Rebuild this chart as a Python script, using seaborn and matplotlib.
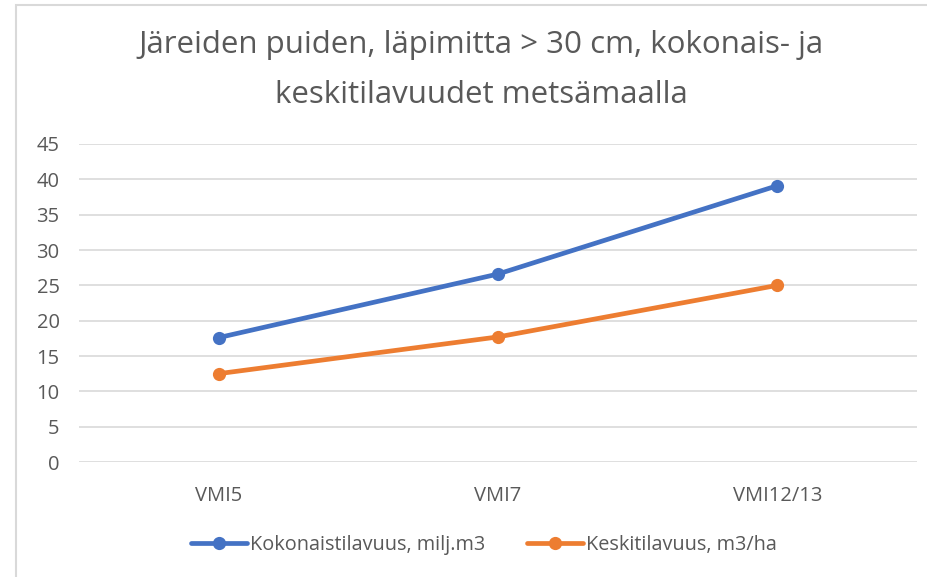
import matplotlib
matplotlib.use("Agg")
import matplotlib.pyplot as plt
import seaborn as sns
import pandas as pd
from matplotlib.lines import Line2D
from matplotlib.patches import Rectangle

categories = ["VMI5", "VMI7", "VMI12/13"]
kokonais = [17.6, 26.6, 39.1]
keski = [12.5, 17.7, 25.0]
series_names = ["Kokonaistilavuus, milj.m3", "Keskitilavuus, m3/ha"]
yticks = [0, 5, 10, 15, 20, 25, 30, 35, 40, 45]
title = "Järeiden puiden, läpimitta > 30 cm, kokonais- ja\nkeskitilavuudet metsämaalla"

colors = ["#4472C4", "#ED7D31"]

df = pd.DataFrame({
    "cat": categories * 2,
    "x": list(range(len(categories))) * 2,
    "value": kokonais + keski,
    "series": [series_names[0]] * 3 + [series_names[1]] * 3,
})

sns.set_theme(style="white")
plt.rcParams["font.family"] = ["Open Sans", "DejaVu Sans"]

fig = plt.figure(figsize=(9.28, 5.77), dpi=100)
fig.patch.set_facecolor("white")
# chart border (only left/top visible)
fig.patches.append(Rectangle((16 / 928, -0.05), 1.2, 1 - 5 / 577 + 0.05,
                             transform=fig.transFigure, fill=False,
                             edgecolor="#d9d9d9", linewidth=1.5))

ax = fig.add_axes([79 / 928, 1 - 462 / 577, (917 - 79) / 928, (462 - 144) / 577])
sns.lineplot(data=df, x="x", y="value", hue="series", palette=colors,
             marker="o", markersize=9.5, markeredgewidth=0, linewidth=3.4,
             ax=ax, legend=False, sort=False)

ax.set_xlim(-0.5, 2.5)
ax.set_ylim(0, 45)
ax.set_yticks(yticks)
ax.set_xticks(range(len(categories)))
ax.set_xticklabels(categories)
ax.set_xlabel("")
ax.set_ylabel("")
ax.grid(axis="y", color="#d9d9d9", linewidth=1.2)
ax.grid(axis="x", visible=False)
ax.set_axisbelow(True)
for s in ax.spines.values():
    s.set_visible(False)
ax.tick_params(axis="both", colors="#595959", labelsize=14.5, length=0)
ax.tick_params(axis="y", pad=14)
ax.tick_params(axis="x", pad=17)

fig.text(481 / 928, 1 - 70 / 577, title, ha="center", va="center",
         fontsize=22.5, color="#595959", linespacing=1.85)

handles = [Line2D([0], [0], color=c, lw=3.4, marker="o", markersize=9.5,
                  markeredgewidth=0) for c in colors]
fig.legend(handles, series_names, loc="center", bbox_to_anchor=(484 / 928, 1 - 545 / 577),
           ncol=2, frameon=False, fontsize=14.3, labelcolor="#595959",
           handlelength=2.8, handletextpad=0.15, columnspacing=2.1)

fig.savefig("out.png", dpi=100)
